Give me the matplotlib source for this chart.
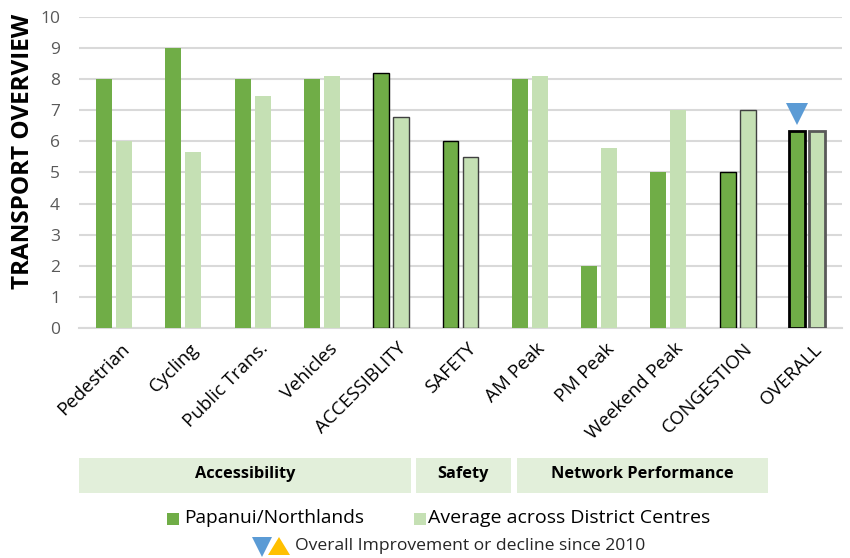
import matplotlib
matplotlib.use("Agg")
import matplotlib.pyplot as plt
from matplotlib.patches import Rectangle, Polygon
import numpy as np

# ---- data ----
categories = ["Pedestrian", "Cycling", "Public Trans.", "Vehicles", "ACCESSIBLITY",
              "SAFETY", "AM Peak", "PM Peak", "Weekend Peak", "CONGESTION", "OVERALL"]
papanui = [8.0, 9.0, 8.0, 8.0, 8.2, 6.0, 8.0, 2.0, 5.0, 5.0, 6.35]
average = [6.0, 5.65, 7.45, 8.12, 6.8, 5.5, 8.12, 5.8, 7.0, 7.0, 6.35]
y_ticks = [0, 1, 2, 3, 4, 5, 6, 7, 8, 9, 10]
series_names = ["Papanui/Northlands", "Average across District Centres"]
groups = ["Accessibility", "Safety", "Network Performance"]
y_title = "TRANSPORT OVERVIEW"
trend_note = "Overall Improvement or decline since 2010"

# ---- style ----
FONT = ["Open Sans", "DejaVu Sans"]
plt.rcParams["font.family"] = FONT
DARK = "#70AD47"
LIGHT = "#C5E0B4"
GRID = "#D9D9D9"
BLUE = "#5B9BD5"
ORANGE = "#FFC000"
BOX = "#E2EFDA"
summary = {"ACCESSIBLITY": 1.0, "SAFETY": 1.0, "CONGESTION": 1.0, "OVERALL": 2.0}

W, H = 850, 558
fig = plt.figure(figsize=(W / 100, H / 100), dpi=100)

def fx(px):
    return px / W

def fy(py):
    return 1 - py / H

ax = fig.add_axes([fx(79.4), fy(327.7), fx(841.6 - 79.4), (327.7 - 17.3) / H])
x = np.arange(len(categories))
bw = 0.23
off = 0.144

for i, cat in enumerate(categories):
    lw = summary.get(cat, 0)
    ax.bar(x[i] - off, papanui[i], bw, color=DARK,
           edgecolor="black" if lw else "none", linewidth=lw, zorder=3)
    ax.bar(x[i] + off, average[i], bw, color=LIGHT,
           edgecolor=("#404040" if lw < 2 else "#595959") if lw else "none",
           linewidth=lw, zorder=3)

# trend marker above overall bar
ax.plot(x[-1] - off, papanui[-1] + 0.52, marker="v", color=BLUE,
        markersize=16, markeredgewidth=0, zorder=4, clip_on=False)

ax.set_xlim(-0.5, len(categories) - 0.5)
ax.set_ylim(0, 10)
ax.set_yticks(y_ticks)
ax.set_yticklabels([str(t) for t in y_ticks], color="#595959", fontsize=12.5)
ax.yaxis.grid(True, color=GRID, linewidth=1.5, zorder=0)
ax.set_axisbelow(True)
for s in ["top", "right", "left"]:
    ax.spines[s].set_visible(False)
ax.spines["bottom"].set_color(GRID)
ax.spines["bottom"].set_linewidth(1.5)
ax.tick_params(axis="y", length=0, pad=14)
ax.tick_params(axis="x", length=0)
ax.set_xticks(x)
ax.set_xticklabels([])

# category labels rotated 45
for i, cat in enumerate(categories):
    ax.annotate(cat, xy=(x[i], 0), xycoords="data", xytext=(6, -12),
                textcoords="offset pixels", rotation=45, ha="right", va="top",
                rotation_mode="anchor", fontsize=13.5, color="#000000")

fig.text(fx(23), fy(151), y_title, rotation=90, ha="center", va="center",
         fontsize=17.5, fontweight="bold", color="black")

# group boxes
box_spans = [(79, 411), (416, 511), (517, 768)]
for name, (x0, x1) in zip(groups, box_spans):
    fig.patches.append(Rectangle((fx(x0), fy(493)), fx(x1 - x0), (493 - 458) / H,
                                 transform=fig.transFigure, facecolor=BOX,
                                 edgecolor="none"))
    fig.text(fx((x0 + x1) / 2), fy(474), name, ha="center", va="center",
             fontsize=11.8, fontweight="bold", color="black")

# legend line 1
fig.patches.append(Rectangle((fx(167), fy(525)), fx(12), 12 / H,
                             transform=fig.transFigure, facecolor=DARK, edgecolor="none"))
fig.text(fx(184), fy(518), series_names[0], ha="left", va="center",
         fontsize=13.8, color="#000000")
fig.patches.append(Rectangle((fx(414), fy(525)), fx(12), 12 / H,
                             transform=fig.transFigure, facecolor=LIGHT, edgecolor="none"))
fig.text(fx(428), fy(518), series_names[1], ha="left", va="center",
         fontsize=14.0, color="#000000")

# legend line 2 (triangles)
fig.patches.append(Polygon([(fx(252), fy(537)), (fx(272), fy(537)), (fx(262), fy(557))],
                           closed=True, transform=fig.transFigure,
                           facecolor=BLUE, edgecolor="none"))
fig.patches.append(Polygon([(fx(268), fy(555)), (fx(290), fy(555)), (fx(279), fy(537))],
                           closed=True, transform=fig.transFigure,
                           facecolor=ORANGE, edgecolor="none"))
fig.text(fx(295), fy(546), trend_note, ha="left", va="center",
         fontsize=12.6, color="#262626")

fig.savefig("out.png", dpi=100)
